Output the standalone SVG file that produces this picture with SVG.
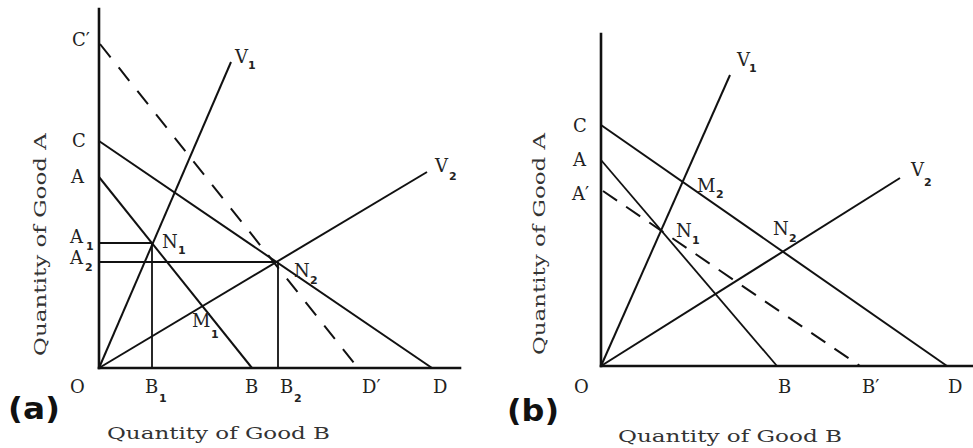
<svg xmlns="http://www.w3.org/2000/svg" width="973" height="448" viewBox="0 0 973 448">
<style>
.ax{stroke:#111;stroke-width:2.6;fill:none;stroke-linecap:square}
.ln{stroke:#111;stroke-width:2;fill:none}
.th{stroke:#111;stroke-width:1.8;fill:none}
.dsA{stroke:#111;stroke-width:2;fill:none;stroke-dasharray:17 13}
.dsB{stroke:#111;stroke-width:2;fill:none;stroke-dasharray:17 11}
.lb{font-family:"DejaVu Serif","Liberation Serif",serif;font-size:18px;fill:#222}
.sub{font-family:"DejaVu Sans","Liberation Sans",sans-serif;font-weight:bold;font-size:11px;fill:#222}
.axl{font-family:"DejaVu Serif","Liberation Serif",serif;font-size:16px;fill:#333}
.pn{font-family:"DejaVu Sans","Liberation Sans",sans-serif;font-weight:bold;font-size:30px;fill:#111}
</style>
<rect width="973" height="448" fill="#fff"/>
<g id="connectors">
  <!-- panel a -->
  <line class="ax" x1="99" y1="9" x2="99" y2="368"/>
  <line class="ax" x1="99" y1="368" x2="460" y2="368"/>
  <line class="ln" x1="99" y1="177" x2="252" y2="368"/>
  <line class="ln" x1="99" y1="141" x2="432" y2="368"/>
  <line class="dsA" x1="100" y1="44" x2="358" y2="368"/>
  <line class="ln" x1="99" y1="368" x2="231" y2="62"/>
  <line class="ln" x1="99" y1="368" x2="427" y2="172"/>
  <line class="th" x1="99" y1="243" x2="153" y2="243"/>
  <line class="th" x1="99" y1="262" x2="276" y2="262"/>
  <line class="th" x1="152" y1="243" x2="152" y2="368"/>
  <line class="th" x1="278" y1="262" x2="278" y2="368"/>
  <!-- panel b -->
  <line class="ax" x1="601" y1="34" x2="601" y2="366"/>
  <line class="ax" x1="601" y1="366" x2="973" y2="366"/>
  <line class="ln" x1="601" y1="125" x2="947" y2="366"/>
  <line class="th" x1="601" y1="160" x2="777" y2="366"/>
  <line class="dsB" x1="603" y1="191" x2="860" y2="366"/>
  <line class="ln" x1="601" y1="366" x2="730" y2="75"/>
  <line class="ln" x1="601" y1="366" x2="900" y2="178"/>
</g>
<g id="panel-a-labels">
  <g id="a-Cp"><text class="lb" x="72" y="46">C′</text></g>
  <g id="a-C"><text class="lb" x="72" y="147">C</text></g>
  <g id="a-A"><text class="lb" x="71" y="183">A</text></g>
  <g id="a-A1"><text class="lb" x="70" y="243">A</text><text class="sub" x="86" y="250">1</text></g>
  <g id="a-A2"><text class="lb" x="70" y="264">A</text><text class="sub" x="85" y="271">2</text></g>
  <g id="a-N1"><text class="lb" x="162" y="248">N</text><text class="sub" x="178" y="254">1</text></g>
  <g id="a-N2"><text class="lb" x="294" y="277">N</text><text class="sub" x="310" y="284">2</text></g>
  <g id="a-M1"><text class="lb" x="192" y="327">M</text><text class="sub" x="211" y="338">1</text></g>
  <g id="a-V1"><text class="lb" x="235" y="63">V</text><text class="sub" x="248" y="69">1</text></g>
  <g id="a-V2"><text class="lb" x="435" y="172">V</text><text class="sub" x="449" y="180">2</text></g>
  <g id="a-O"><text class="lb" x="70" y="393">O</text></g>
  <g id="a-B1"><text class="lb" x="145" y="393">B</text><text class="sub" x="159" y="402">1</text></g>
  <g id="a-B"><text class="lb" x="245" y="393">B</text></g>
  <g id="a-B2"><text class="lb" x="280" y="393">B</text><text class="sub" x="294" y="402">2</text></g>
  <g id="a-Dp"><text class="lb" x="362" y="393">D′</text></g>
  <g id="a-D"><text class="lb" x="433" y="393">D</text></g>
  <g id="a-title"><text class="pn" x="8" y="419" textLength="52" lengthAdjust="spacingAndGlyphs">(a)</text></g>
  <g id="a-xlabel"><text class="axl" x="107" y="439" textLength="223" lengthAdjust="spacingAndGlyphs">Quantity of Good B</text></g>
  <g id="a-ylabel"><text class="axl" transform="translate(46,356) rotate(-90)" textLength="223" lengthAdjust="spacingAndGlyphs">Quantity of Good A</text></g>
</g>
<g id="panel-b-labels">
  <g id="b-C"><text class="lb" x="573" y="132">C</text></g>
  <g id="b-A"><text class="lb" x="573" y="166">A</text></g>
  <g id="b-Ap"><text class="lb" x="572" y="200">A′</text></g>
  <g id="b-V1"><text class="lb" x="737" y="66">V</text><text class="sub" x="749" y="72">1</text></g>
  <g id="b-M2"><text class="lb" x="697" y="192">M</text><text class="sub" x="716" y="198">2</text></g>
  <g id="b-N1"><text class="lb" x="676" y="237">N</text><text class="sub" x="692" y="244">1</text></g>
  <g id="b-N2"><text class="lb" x="773" y="235">N</text><text class="sub" x="789" y="242">2</text></g>
  <g id="b-V2"><text class="lb" x="911" y="176">V</text><text class="sub" x="924" y="186">2</text></g>
  <g id="b-O"><text class="lb" x="574" y="393">O</text></g>
  <g id="b-B"><text class="lb" x="778" y="393">B</text></g>
  <g id="b-Bp"><text class="lb" x="862" y="393">B′</text></g>
  <g id="b-D"><text class="lb" x="948" y="393">D</text></g>
  <g id="b-title"><text class="pn" x="507" y="421" textLength="52" lengthAdjust="spacingAndGlyphs">(b)</text></g>
  <g id="b-xlabel"><text class="axl" x="618" y="442" textLength="224" lengthAdjust="spacingAndGlyphs">Quantity of Good B</text></g>
  <g id="b-ylabel"><text class="axl" transform="translate(545,355) rotate(-90)" textLength="222" lengthAdjust="spacingAndGlyphs">Quantity of Good A</text></g>
</g>
</svg>
